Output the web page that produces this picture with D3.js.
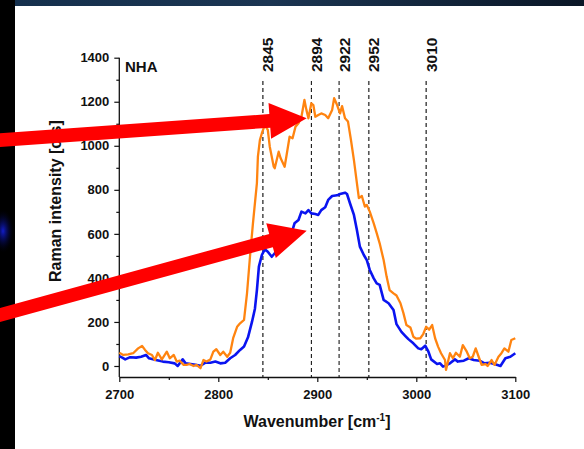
<!DOCTYPE html>
<html>
<head>
<meta charset="utf-8">
<script src="https://cdn.jsdelivr.net/npm/d3@7"></script>
<style>
  html, body { margin: 0; padding: 0; background: #000; }
  svg { display: block; }
  text { font-family: "Liberation Sans", Arial, Helvetica, sans-serif; font-weight: bold; fill: #111; }
</style>
</head>
<body>
<svg id="chart" width="584" height="449"></svg>
<script>
// Raman spectra, C–H stretching region (wavenumber in cm^-1, intensity in counts)
const wavenumberBlue = [2700,2703,2706,2711,2717,2722,2727,2730,2737,2744,2750,2756,2759,2764,2767,2772,2777,2782,2787,2792,2797,2802,2807,2812,2817,2822,2826,2830,2834,2837,2839,2841,2844,2847,2850,2854,2857,2861,2867,2874,2877,2881,2884,2888,2891,2894,2898,2901,2904,2908,2911,2915,2920,2923,2928,2930,2933,2937,2940,2943,2947,2950,2953,2957,2960,2963,2967,2972,2977,2980,2985,2989,2992,2997,3002,3005,3009,3012,3015,3021,3024,3027,3031,3034,3039,3042,3048,3053,3058,3064,3069,3074,3079,3085,3090,3095,3100];
const intensityBlue = [45,38,30,40,38,42,50,35,27,20,17,12,0,30,12,9,5,1,15,15,20,12,15,35,50,73,88,130,200,260,345,451,504,530,519,496,512,542,557,603,648,663,701,693,708,693,690,686,708,721,754,772,775,781,787,781,739,686,618,542,504,481,436,398,375,368,300,285,254,190,155,136,122,103,80,76,92,68,30,9,12,-3,5,12,30,20,24,35,27,24,12,15,9,0,35,42,58];

const wavenumberOrange = [2700,2704,2709,2714,2719,2723,2726,2729,2733,2736,2739,2743,2748,2751,2755,2758,2761,2765,2768,2771,2775,2778,2782,2785,2788,2792,2795,2798,2802,2805,2809,2812,2815,2819,2822,2826,2829,2832,2835,2839,2840,2842,2844,2847,2850,2852,2856,2857,2861,2863,2867,2869,2872,2875,2878,2881,2884,2887,2889,2891,2894,2896,2898,2901,2904,2908,2911,2915,2917,2920,2923,2925,2928,2931,2934,2937,2940,2942,2945,2948,2950,2953,2957,2960,2963,2967,2970,2973,2977,2980,2984,2987,2990,2994,2997,3000,3004,3007,3010,3013,3016,3019,3022,3025,3029,3030,3034,3037,3040,3044,3047,3051,3054,3057,3060,3063,3066,3070,3072,3076,3079,3083,3086,3089,3093,3096,3100];
const intensityOrange = [60,50,53,58,80,91,73,58,50,27,60,30,65,35,50,20,24,5,5,9,0,5,-10,27,20,30,65,76,50,65,42,60,126,178,194,209,330,496,648,830,951,1026,1057,1094,1072,996,905,898,973,943,905,958,1041,1034,1087,1102,1132,1208,1163,1125,1193,1185,1132,1140,1147,1140,1125,1163,1216,1185,1147,1180,1125,1110,1026,935,830,762,772,724,731,701,648,603,557,481,406,345,330,320,285,240,186,175,133,124,126,145,178,165,186,126,88,58,27,-18,58,35,60,42,95,65,35,42,80,42,5,9,0,27,5,42,58,80,65,118,126];

// Marked band positions (cm^-1) and their label styles
const peakPositions = [2845, 2894, 2922, 2952, 3010];
const peakLabels = ["2845", "2894", "2922", "2952", "3010"];
const peakDark = [false, true, true, false, false];

// Axis ticks
const xMajorTicks = [2700, 2800, 2900, 3000, 3100];
const xMinorTicks = [2750, 2850, 2950, 3050];
const yMajorTicks = [0, 200, 400, 600, 800, 1000, 1200, 1400];
const yMinorTicks = [100, 300, 500, 700, 900, 1100, 1300];

// Pointer arrows: tail and tip in data units
const arrowTailWn = [2574, 2574];
const arrowTailVal = [1024, 225];
const arrowTipWn = [2889.3, 2889.3];
const arrowTipVal = [1125, 614];

const svg = d3.select("#chart");
const W = 584, H = 449;

// Backdrop: dark frame around the white sheet
const defs = svg.append("defs");
const topGrad = defs.append("linearGradient").attr("id", "topBand").attr("x1", 0).attr("x2", 1).attr("y1", 0).attr("y2", 0);
topGrad.append("stop").attr("offset", "0%").attr("stop-color", "#15304d");
topGrad.append("stop").attr("offset", "45%").attr("stop-color", "#1b3552");
topGrad.append("stop").attr("offset", "100%").attr("stop-color", "#0a1626");
const glow = defs.append("radialGradient").attr("id", "glow");
glow.append("stop").attr("offset", "0%").attr("stop-color", "#1420e0").attr("stop-opacity", 0.9);
glow.append("stop").attr("offset", "40%").attr("stop-color", "#0a1290").attr("stop-opacity", 0.55);
glow.append("stop").attr("offset", "100%").attr("stop-color", "#000010").attr("stop-opacity", 0);

svg.append("rect").attr("x", 0).attr("y", 0).attr("width", W).attr("height", H).attr("fill", "#000");
svg.append("rect").attr("x", 15).attr("y", 0).attr("width", W - 15).attr("height", 6).attr("fill", "url(#topBand)");
svg.append("ellipse").attr("cx", 3).attr("cy", 231).attr("rx", 11).attr("ry", 22).attr("fill", "url(#glow)");
svg.append("rect").attr("x", 15).attr("y", 6).attr("width", W - 15).attr("height", H - 6).attr("fill", "#fff");

// Scales
const x = d3.scaleLinear().domain([2700, 3100]).range([119.3, 515.3]);
const y = d3.scaleLinear().domain([-50, 1400]).range([377, 57.7]);

// Dashed band markers
const markers = svg.append("g");
peakPositions.forEach((p, i) => {
  markers.append("line")
    .attr("x1", x(p)).attr("x2", x(p))
    .attr("y1", 81).attr("y2", y(-50))
    .attr("stroke", peakDark[i] ? "#000" : "#555")
    .attr("stroke-width", peakDark[i] ? 1 : 1.6)
    .attr("stroke-dasharray", "4,3");
  markers.append("text")
    .attr("transform", `translate(${x(p) + 10.5},72) rotate(-90)`)
    .attr("font-size", 15.5)
    .attr("text-anchor", "start")
    .text(peakLabels[i]);
});

// Axes
function styleAxis(g) {
  g.select(".domain").attr("stroke", "#111").attr("stroke-width", 1.3);
  g.selectAll(".tick line").attr("stroke", "#111").attr("stroke-width", 1.2);
  g.selectAll(".tick text").attr("font-size", 13).attr("font-family", "Liberation Sans, Arial, sans-serif").attr("font-weight", "bold").attr("fill", "#111");
}
const xAxisG = svg.append("g").attr("transform", `translate(0,${y(-50)})`)
  .call(d3.axisBottom(x).tickValues(xMajorTicks).tickSize(5).tickSizeOuter(0).tickPadding(8).tickFormat(d3.format("d")));
styleAxis(xAxisG);
const xMinorG = svg.append("g").attr("transform", `translate(0,${y(-50)})`)
  .call(d3.axisBottom(x).tickValues(xMinorTicks).tickSize(3).tickFormat(""));
xMinorG.select(".domain").remove();
styleAxis(xMinorG);

const yAxisG = svg.append("g").attr("transform", `translate(${x(2700)},0)`)
  .call(d3.axisLeft(y).tickValues(yMajorTicks).tickSize(5).tickSizeOuter(0).tickPadding(5).tickFormat(d3.format("d")));
styleAxis(yAxisG);
const yMinorG = svg.append("g").attr("transform", `translate(${x(2700)},0)`)
  .call(d3.axisLeft(y).tickValues(yMinorTicks).tickSize(3).tickFormat(""));
yMinorG.select(".domain").remove();
styleAxis(yMinorG);
// the vertical axis line runs from the 1400 tick down to the horizontal axis
yAxisG.select(".domain").attr("d", `M0,${y(1400)}V${y(-50)}`);

// Spectra
const line = d3.line().x(d => x(d[0])).y(d => y(d[1]));
const blue = d3.zip(wavenumberBlue, intensityBlue);
const orange = d3.zip(wavenumberOrange, intensityOrange);
svg.append("path").datum(blue).attr("d", line)
  .attr("fill", "none").attr("stroke", "#0a14f0").attr("stroke-width", 2.6).attr("stroke-linejoin", "round");
svg.append("path").datum(orange).attr("d", line)
  .attr("fill", "none").attr("stroke", "#ff8410").attr("stroke-width", 2.3).attr("stroke-linejoin", "round");

// Panel label
svg.append("text").attr("x", 125).attr("y", 72).attr("font-size", 15).text("NHA");

// Axis titles
const xt = svg.append("text").attr("x", 317).attr("y", 427).attr("text-anchor", "middle").attr("font-size", 16);
xt.append("tspan").text("Wavenumber [cm");
xt.append("tspan").attr("font-size", 10).attr("dy", -6).text("-1");
xt.append("tspan").attr("dy", 6).text("]");

svg.append("text")
  .attr("transform", "translate(61,282) rotate(-90)")
  .attr("text-anchor", "start")
  .attr("font-size", 16)
  .text("Raman intensity [cts]");

// Red pointer arrows
const arrows = svg.append("g");
arrowTailWn.forEach((_, i) => {
  const x0 = x(arrowTailWn[i]), y0 = y(arrowTailVal[i]);
  const x1 = x(arrowTipWn[i]), y1 = y(arrowTipVal[i]);
  const len = Math.hypot(x1 - x0, y1 - y0);
  const ux = (x1 - x0) / len, uy = (y1 - y0) / len;
  const nx = -uy, ny = ux;
  const shaft = 6.8, head = 18, headLen = 37;
  const bx = x1 - ux * headLen, by = y1 - uy * headLen;
  const pts = [
    [x0 + nx * shaft, y0 + ny * shaft],
    [bx + nx * shaft, by + ny * shaft],
    [bx + nx * head, by + ny * head],
    [x1, y1],
    [bx - nx * head, by - ny * head],
    [bx - nx * shaft, by - ny * shaft],
    [x0 - nx * shaft, y0 - ny * shaft]
  ];
  arrows.append("polygon").attr("points", pts.map(p => p.join(",")).join(" ")).attr("fill", "#ff0000");
});
</script>
</body>
</html>
